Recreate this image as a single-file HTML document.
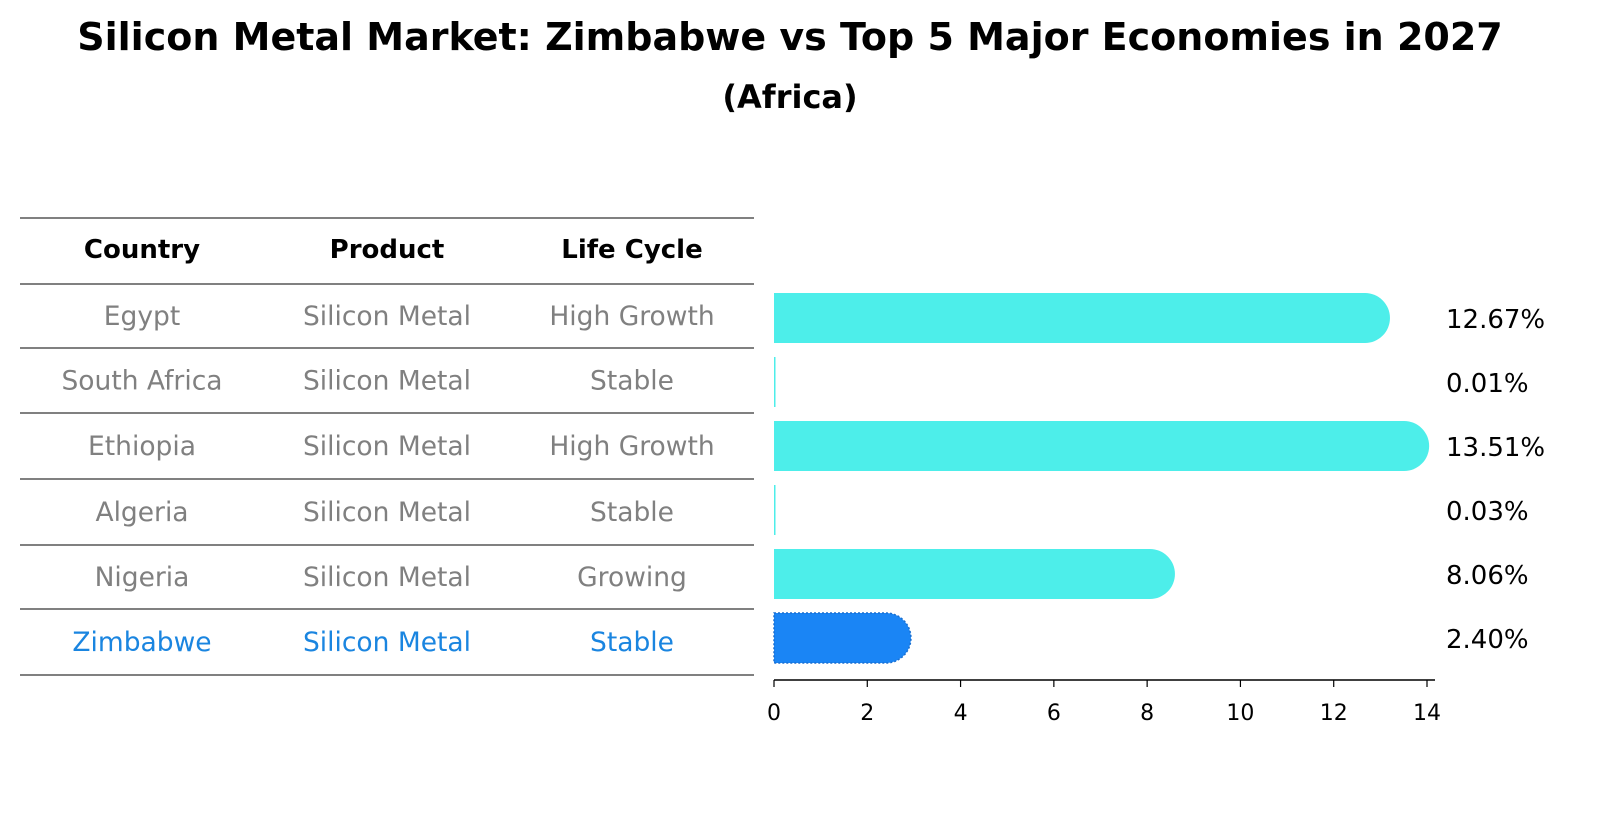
<!DOCTYPE html>
<html><head><meta charset="utf-8"><style>
body{margin:0;background:#fff;font-family:"Liberation Sans","DejaVu Sans",sans-serif;}
svg text{font-family:"DejaVu Sans","Liberation Sans",sans-serif;}
</style></head><body>
<svg id="c" width="1604" height="823" xmlns="http://www.w3.org/2000/svg">
<text x="790" y="50" text-anchor="middle" font-size="38" font-weight="bold">Silicon Metal Market: Zimbabwe vs Top 5 Major Economies in 2027</text>
<text x="790" y="108" text-anchor="middle" font-size="32" font-weight="bold">(Africa)</text>
<g id="table"></g>
<g id="bars"></g>
</svg>
<script>
const countries=["Egypt","South Africa","Ethiopia","Algeria","Nigeria","Zimbabwe"];
const products=["Silicon Metal","Silicon Metal","Silicon Metal","Silicon Metal","Silicon Metal","Silicon Metal"];
const lifeCycles=["High Growth","Stable","High Growth","Stable","Growing","Stable"];
const values=[12.67,0.01,13.51,0.03,8.06,2.40];
const valueLabels=["12.67%","0.01%","13.51%","0.03%","8.06%","2.40%"];
const ticks=[0,2,4,6,8,10,12,14];

const NS="http://www.w3.org/2000/svg";
function mk(tag,attrs,parent,text){const e=document.createElementNS(NS,tag);for(const k in attrs)e.setAttribute(k,attrs[k]);if(text!==undefined)e.textContent=text;parent.appendChild(e);return e;}
const x=v=>774+v*(1427-774)/14;
const rowY=i=>318+i*64;
const tbl=document.getElementById('table');
const lineYs=[218,284,348,413,479,545,609,675];
lineYs.forEach((ly,i)=>{const l=mk('line',{x1:20,x2:754,y1:ly,y2:ly,stroke:'#000','stroke-width':1},tbl);

});
const colX=[142,387,632];
["Country","Product","Life Cycle"].forEach((h,j)=>{const t=mk('text',{x:colX[j],y:258,'text-anchor':'middle','font-size':26,'font-weight':'bold'},tbl,h);

});
countries.forEach((c,i)=>{const col=i===5?'#1a85e0':'#808080';const y=(lineYs[i+1]+lineYs[i+2])/2+9;
[c,products[i],lifeCycles[i]].forEach((s,j)=>{const t=mk('text',{x:colX[j],y:y,'text-anchor':'middle','font-size':26.5,fill:col},tbl,s);

});});
const bg=document.getElementById('bars');
values.forEach((v,i)=>{const cy=rowY(i);const w=x(v)-774;const r=25;const col=i===5?'#1a85f5':'#4deeea';
let el;
if(w<3){el=mk('rect',{x:774,y:cy-r,width:Math.max(w,1.5),height:2*r,fill:col},bg);}
else{el=mk('path',{d:`M774 ${cy-r} H${774+w} A${r} ${r} 0 0 1 ${774+w} ${cy+r} H774 Z`,fill:col},bg);
if(i===5){el.setAttribute('stroke','#1a6fd0');el.setAttribute('stroke-dasharray','2 2');el.setAttribute('stroke-width','1.5');}}


const t=mk('text',{x:1446,y:cy+10,'font-size':26},bg,valueLabels[i]);

});
const ax=mk('line',{x1:774,x2:1435,y1:680,y2:680,stroke:'#000','stroke-width':1.5},bg);


ticks.forEach(tv=>{const tk=mk('line',{x1:x(tv),x2:x(tv),y1:680,y2:687,stroke:'#000','stroke-width':1.2},bg);


const t=mk('text',{x:x(tv),y:720,'text-anchor':'middle','font-size':22},bg,String(tv));

});
</script>
</body></html>
